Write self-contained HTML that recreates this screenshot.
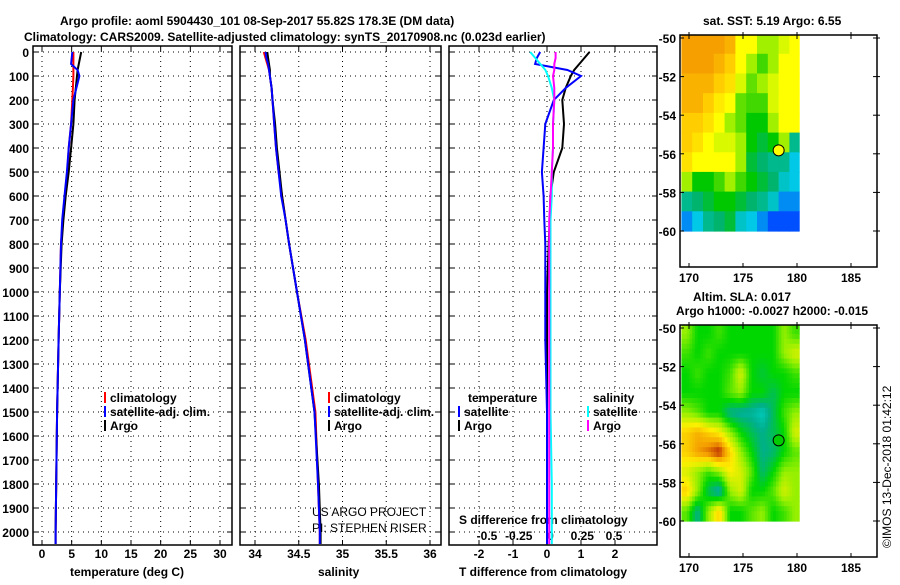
<!DOCTYPE html>
<html><head><meta charset="utf-8"><style>
html,body{margin:0;padding:0;background:#fff;}
svg text{font-family:"Liberation Sans",sans-serif;font-weight:bold;font-size:12px;fill:#000;}
</style></head><body>
<svg id="c" width="900" height="580" xmlns="http://www.w3.org/2000/svg">
<text x="60" y="25" font-size="13">Argo profile: aoml 5904430_101 08-Sep-2017 55.82S 178.3E (DM data)</text>
<text x="24" y="41" font-size="13">Climatology: CARS2009. Satellite-adjusted climatology: synTS_20170908.nc (0.023d earlier)</text>
<text x="703" y="25">sat. SST: 5.19 Argo: 6.55</text>
<text x="693" y="301">Altim. SLA: 0.017</text>
<text x="676" y="315">Argo h1000: -0.0027 h2000: -0.015</text>
<text x="0" y="0" transform="translate(891,548) rotate(-90)" style="font-weight:normal">©IMOS 13-Dec-2018 01:42:12</text>
<text x="70" y="576">temperature (deg C)</text>
<text x="318" y="576">salinity</text>
<text x="459" y="576">T difference from climatology</text>
<text x="312" y="516" style="font-weight:normal">US ARGO PROJECT</text>
<text x="312" y="532" style="font-weight:normal">PI: STEPHEN RISER</text>
<text x="459" y="524">S difference from climatology</text>
</svg>
<script>
// ---------- data ----------
const depthLevels=[0,25,50,75,100,150,200,300,400,500,600,700,800,1000,1200,1500,1800,2000,2050];
const tempArgo=[6.6,6.4,6.2,6.0,5.9,5.7,5.5,5.3,4.9,4.5,4.0,3.6,3.3,3.0,2.8,2.55,2.4,2.3,2.3];
const tempClim=[5.3,5.3,5.3,5.3,5.3,5.2,5.1,4.9,4.5,4.3,3.9,3.5,3.2,3.0,2.8,2.55,2.4,2.3,2.3];
const tempSat=[5.1,5.0,4.9,6.0,6.3,5.8,5.3,4.9,4.5,4.2,3.8,3.4,3.2,3.0,2.8,2.55,2.4,2.3,2.3];
const salArgo=[34.14,34.15,34.16,34.17,34.17,34.19,34.2,34.23,34.25,34.28,34.31,34.35,34.39,34.48,34.57,34.68,34.73,34.75,34.75];
const salClim=[34.1,34.12,34.14,34.16,34.17,34.19,34.2,34.22,34.24,34.27,34.31,34.35,34.39,34.48,34.58,34.69,34.72,34.74,34.74];
const salSat=[34.12,34.13,34.15,34.16,34.17,34.19,34.2,34.22,34.24,34.27,34.3,34.35,34.39,34.48,34.57,34.68,34.72,34.74,34.74];
const tdiffArgo=[1.25,1.1,0.95,0.8,0.7,0.55,0.45,0.5,0.45,0.2,0.1,0.08,0.05,0,0,0,0,0,0];
const tdiffSat=[-0.2,-0.3,-0.35,0.6,1.0,0.55,0.2,-0.05,-0.1,-0.15,-0.1,-0.08,-0.05,-0.05,-0.05,0,0,0,0];
const sdiffSat=[-0.16,-0.12,-0.08,-0.04,-0.02,0.01,0.03,0.02,0.02,0.01,0.01,0.0,0.0,0.0,0.0,0.0,0.01,0.01,0.01];
const sdiffArgo=[0.04,0.04,0.03,0.03,0.02,0.03,0.03,0.02,0.02,0.01,0.0,-0.01,-0.01,-0.01,-0.01,-0.01,-0.01,-0.01,-0.01];
const depthTicks=[0,100,200,300,400,500,600,700,800,900,1000,1100,1200,1300,1400,1500,1600,1700,1800,1900,2000];
const tempTicks=[0,5,10,15,20,25,30];
const salTicks=[34,34.5,35,35.5,36];
const salTickLabels=["34","34.5","35","35.5","36"];
const tdiffTicks=[-2,-1,0,1,2];
const sdiffTicks=[-0.5,-0.25,0,0.25,0.5];
const sdiffTickLabels=["-0.5","-0.25","0","0.25","0.5"];
const latTicks=[-50,-52,-54,-56,-58,-60];
const lonTicks=[170,175,180,185];
const argoLon=178.3, argoLat=-55.82;
const sstGrid=[
[7,7,7,7,6.8,6,6,5.5,5.5,5.8,6],
[7,7,7,6.8,6.5,6,5.5,5.2,5.5,6,6],
[6.8,6.8,6.8,6.5,6.3,5.8,5.3,5.5,5.8,6,6],
[6.8,6.8,6.5,6.2,6,5.3,5.2,5.2,5.8,6,6],
[6.5,6.5,6.3,6,5.5,5.3,5,5,5.5,6,6],
[6.5,6.3,6,5.8,5.8,5.5,5,4.8,5,5.5,4.5],
[6.3,6,6,6,6,5.5,4.8,4.6,4.5,4.5,4.2],
[5.5,5,5,5.2,5.5,5.2,5,4.8,4.6,4.3,4.2],
[4.5,4.6,4.8,5,5,4.8,4.6,4.5,4.3,4.0,4],
[4,4.2,4.5,4.6,4.8,4.3,4.2,4.0,3.8,3.8,3.8]];
const slaGrid=[
[0.05,0,0,0.02,0,0,0,0,0,0.05,0.02],
[0.02,0,0.02,0,0,0,0,0,0,0.05,0.08],
[0,0.02,0,0,0.02,0.08,0,-0.02,0,0,0.02],
[0,0,0,0,0.03,0.05,0,0,-0.03,0,0],
[0.05,0.03,0,0,-0.05,-0.06,-0.06,-0.08,-0.03,0.02,0.05],
[0.12,0.14,0.12,0.1,0.05,0,-0.03,-0.05,-0.03,0,0.08],
[0.12,0.15,0.17,0.2,0.12,0.05,0,-0.05,-0.04,0,0.03],
[0.08,0.05,0.02,0.05,0.1,0.08,0.03,-0.04,0,0.05,0.05],
[0.12,0.05,-0.03,-0.07,0.05,0.08,0,0,0.03,0.08,0.05],
[0.03,-0.05,0.05,0.12,0,0,0.03,0.05,0,0.02,0.05]];

// ---------- helpers ----------
const svg=document.getElementById('c');
const NS='http://www.w3.org/2000/svg';
function mk(tag,attrs,parent){const e=document.createElementNS(NS,tag);for(const k in attrs)e.setAttribute(k,attrs[k]);(parent||svg).appendChild(e);return e;}
const yTop=46,yBot=545;
function yD(d){return 52+d*0.24;}
function lin(d0,d1,r0,r1){return v=>r0+(v-d0)*(r1-r0)/(d1-d0);}
const panels=[
 {x0:33,x1:232,sx:lin(0,30,42,220),name:'temperature-panel'},
 {x0:240,x1:441,sx:lin(34,36,255,430),name:'salinity-panel'},
 {x0:449,x1:657,sx:lin(-2,2,479,615),name:'difference-panel'}];
const sS=lin(-0.5,0.5,487,614);

function drawGrid(p,ticks,labels,labelY){
  const g=mk('g',{});
  
  
  ticks.forEach((t,i)=>{const x=p.sx(t);
    mk('line',{x1:x,x2:x,y1:yTop,y2:yBot,stroke:'#000','stroke-dasharray':'1,4','stroke-width':1},g);
    mk('line',{x1:x,x2:x,y1:yBot,y2:yBot-5,stroke:'#000'},g);
    mk('line',{x1:x,x2:x,y1:yTop,y2:yTop+5,stroke:'#000'},g);
    const tx=mk('text',{x:x,y:labelY,'text-anchor':'middle'},g);tx.textContent=labels[i];
    
    
  });
  depthTicks.forEach(d=>{const y=yD(d);
    mk('line',{x1:p.x0,x2:p.x1,y1:y,y2:y,stroke:'#000','stroke-dasharray':'1,4'},g);
    mk('line',{x1:p.x0,x2:p.x0+5,y1:y,y2:y,stroke:'#000'},g);
    mk('line',{x1:p.x1-5,x2:p.x1,y1:y,y2:y,stroke:'#000'},g);
  });
  const r=mk('rect',{x:p.x0,y:yTop,width:p.x1-p.x0,height:yBot-yTop,fill:'none',stroke:'#000','stroke-width':1.5});
  
  
}
function line(vals,sx,color,name,w){
  const pts=vals.map((v,i)=>sx(v).toFixed(1)+','+yD(depthLevels[i]).toFixed(1)).join(' ');
  const e=mk('polyline',{points:pts,fill:'none',stroke:color,'stroke-width':w||2});
  
  
}
drawGrid(panels[0],tempTicks,tempTicks.map(String),558);
drawGrid(panels[1],salTicks,salTickLabels,558);
drawGrid(panels[2],tdiffTicks,tdiffTicks.map(String),558);
sdiffTicks.forEach((t,i)=>{const tx=mk('text',{x:sS(t),y:540,'text-anchor':'middle'});tx.textContent=sdiffTickLabels[i];
  
  });
depthTicks.forEach(d=>{const tx=mk('text',{x:29,y:yD(d)+5,'text-anchor':'end'});tx.textContent=String(d);
  
  });

line(tempClim,panels[0].sx,'#ff0000','temp-climatology-line');
line(tempArgo,panels[0].sx,'#000','temp-argo-line');
line(tempSat,panels[0].sx,'#0000ff','temp-satellite-line');
line(salClim,panels[1].sx,'#ff0000','sal-climatology-line');
line(salArgo,panels[1].sx,'#000','sal-argo-line');
line(salSat,panels[1].sx,'#0000ff','sal-satellite-line');
line(tdiffArgo,panels[2].sx,'#000','tdiff-argo-line');
line(tdiffSat,panels[2].sx,'#0000ff','tdiff-satellite-line');
line(sdiffSat,sS,'#00ffff','sdiff-satellite-line');
line(sdiffArgo,sS,'#ff00ff','sdiff-argo-line');

function legend(x,y,color,label,name){
  const g=mk('g',{});
  
  
  mk('rect',{x:x,y:y-10,width:2,height:11,fill:color},g);
  const t=mk('text',{x:x+6,y:y},g);t.textContent=label;
}
legend(104,402,'#ff0000','climatology','legend-climatology');
legend(104,416,'#0000ff','satellite-adj. clim.','legend-satellite');
legend(104,430,'#000','Argo','legend-argo');
legend(328,402,'#ff0000','climatology','legend-sal-climatology');
legend(328,416,'#0000ff','satellite-adj. clim.','legend-sal-satellite');
legend(328,430,'#000','Argo','legend-sal-argo');
(function(){const t=mk('text',{x:468,y:402});t.textContent='temperature';
 
 const t2=mk('text',{x:593,y:402});t2.textContent='salinity';
 })();
legend(458,416,'#0000ff','satellite','legend-t-satellite');
legend(458,430,'#000','Argo','legend-t-argo');
legend(587,416,'#00ffff','satellite','legend-s-satellite');
legend(587,430,'#ff00ff','Argo','legend-s-argo');

// ---------- maps ----------
const sstStops=[[3.5,[0,0,140]],[3.8,[0,80,255]],[4.2,[0,200,230]],[4.6,[0,180,110]],[5.0,[0,200,0]],[5.5,[160,240,0]],[6.0,[255,255,0]],[6.5,[255,205,0]],[7.0,[245,160,0]]];
const slaStops=[[-0.1,[0,220,220]],[-0.05,[0,175,140]],[0,[0,215,0]],[0.05,[150,240,0]],[0.1,[255,240,0]],[0.15,[245,160,0]],[0.2,[180,30,0]]];
function cmap(stops,v){
  if(v<=stops[0][0])return 'rgb('+stops[0][1].join(',')+')';
  for(let i=1;i<stops.length;i++){if(v<=stops[i][0]){const a=stops[i-1],b=stops[i],f=(v-a[0])/(b[0]-a[0]);
    return 'rgb('+a[1].map((c,k)=>Math.round(c+(b[1][k]-c)*f)).join(',')+')';}}
  return 'rgb('+stops[stops.length-1][1].join(',')+')';}
function sample(grid,fr,fc,smooth){
  const R=grid.length,C=grid[0].length;
  if(!smooth)return grid[Math.min(R-1,Math.floor(fr))][Math.min(C-1,Math.floor(fc))];
  let r=Math.max(0,Math.min(R-1,fr-0.5)),c=Math.max(0,Math.min(C-1,fc-0.5));
  const r0=Math.floor(r),c0=Math.floor(c),r1=Math.min(R-1,r0+1),c1=Math.min(C-1,c0+1),dr=r-r0,dc=c-c0;
  return grid[r0][c0]*(1-dr)*(1-dc)+grid[r0][c1]*(1-dr)*dc+grid[r1][c0]*dr*(1-dc)+grid[r1][c1]*dr*dc;}
function drawMap(top,grid,stops,name,dotColor,smooth){
  const bx0=680,bx1=877,by0=top,by1=top+232;
  const sx=lin(170,185,689,851), sy=lin(-50,-60,top+3,top+196);
  const g=mk('g',{});
  
  
  const sub=smooth?4:1;
  const R=grid.length,C=grid[0].length;
  for(let i=0;i<R*sub;i++)for(let j=0;j<C*sub;j++){
    const fr=(i+0.5)/sub, fc=(j+0.5)/sub;
    const v=sample(grid,fr,fc,smooth);
    const lonA=169.3+j/sub, lonB=169.3+(j+1)/sub;
    const latA=-50+0.2-i/sub*(10.2/10), latB=-50+0.2-(i+1)/sub*(10.2/10);
    const x=Math.max(bx0,sx(lonA)), xe=Math.min(sx(180.2),sx(lonB));
    const y=Math.max(by0,sy(latA)), ye=sy(latB);
    const cell=mk('rect',{x:x.toFixed(1),y:y.toFixed(1),width:(xe-x+0.6).toFixed(1),height:(ye-y+0.6).toFixed(1),fill:cmap(stops,v)},g);
    
    
  }
  mk('rect',{x:bx0,y:by0,width:bx1-bx0,height:by1-by0,fill:'none',stroke:'#000','stroke-width':1.5},g);
  latTicks.forEach(l=>{const y=sy(l);
    mk('line',{x1:bx0,x2:bx0+4,y1:y,y2:y,stroke:'#000'},g);
    mk('line',{x1:bx1-4,x2:bx1+3,y1:y,y2:y,stroke:'#000'},g);
    const t=mk('text',{x:676,y:y+5,'text-anchor':'end'},g);t.textContent=String(l);});
  lonTicks.forEach(l=>{const x=sx(l);
    mk('line',{x1:x,x2:x,y1:by0-3,y2:by0+4,stroke:'#000'},g);
    mk('line',{x1:x,x2:x,y1:by1-4,y2:by1,stroke:'#000'},g);
    const t=mk('text',{x:x,y:by1+15,'text-anchor':'middle'},g);t.textContent=String(l);});
  const c=mk('circle',{cx:sx(argoLon),cy:sy(argoLat),r:5.5,fill:dotColor,stroke:'#000','stroke-width':1});
  
  
}
drawMap(35,sstGrid,sstStops,'sst-map','#ffff00',false);
drawMap(325,slaGrid,slaStops,'sla-map','#00cc00',true);
</script>
</body></html>
